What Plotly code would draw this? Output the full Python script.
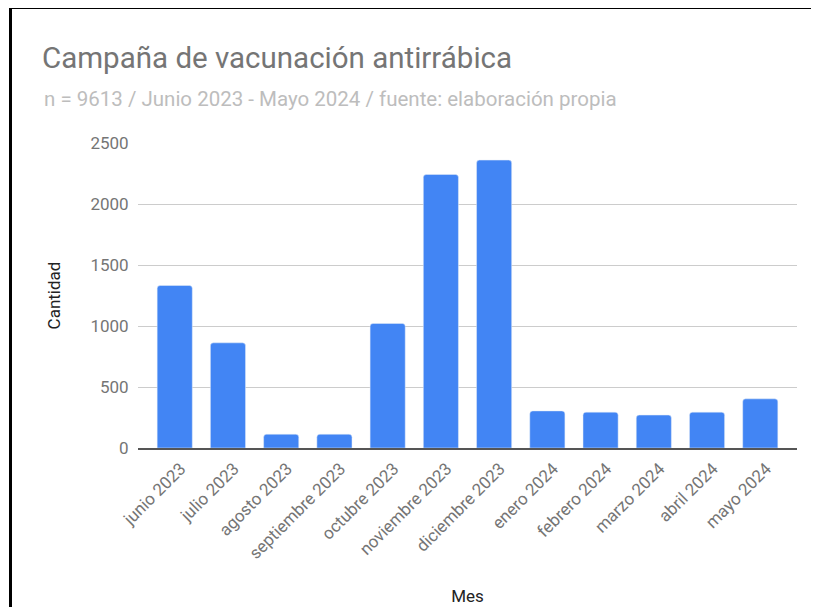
"""Campaña de vacunación antirrábica - bar chart."""

import plotly.graph_objects as go

meses = [
    "junio 2023", "julio 2023", "agosto 2023", "septiembre 2023",
    "octubre 2023", "noviembre 2023", "diciembre 2023", "enero 2024",
    "febrero 2024", "marzo 2024", "abril 2024", "mayo 2024",
]
cantidad = [1332, 862, 113, 113, 1021, 2242, 2360, 304, 294, 270, 294, 403]
y_ticks = [0, 500, 1000, 1500, 2000, 2500]

titulo = "Campaña de vacunación antirrábica"
subtitulo = "n = 9613 / Junio 2023 - Mayo 2024 / fuente: elaboración propia"

# the page body keeps its default 8px margin, so the figure is 8px smaller
W, H = 811, 599
L, R, T, B = 130, 22, 135, 159
plot_w = W - L - R
plot_h = H - T - B

fig = go.Figure(
    go.Bar(
        x=meses,
        y=cantidad,
        marker=dict(color="#4285f4", cornerradius=3),
        hoverinfo="x+y",
    )
)

# black frame on the left and top edges (px -> paper coords)
fx = (2.5 - L) / plot_w
fy = (H - B + 0.5) / plot_h
fig.add_shape(type="line", xref="paper", yref="paper",
              x0=fx, x1=fx, y0=-1, y1=fy, line=dict(color="black", width=3))
fig.add_shape(type="line", xref="paper", yref="paper",
              x0=fx, x1=2, y0=fy, y1=fy, line=dict(color="black", width=3))

fig.add_annotation(
    text=subtitulo, xref="paper", yref="paper",
    x=(34 - L) / plot_w, y=(H - B - 91) / plot_h,
    xanchor="left", yanchor="middle", showarrow=False,
    font=dict(size=20.5, color="#bdbdbd"),
)

fig.update_layout(
    width=W, height=H,
    margin=dict(l=L, r=R, t=T, b=B, autoexpand=False),
    paper_bgcolor="white",
    plot_bgcolor="white",
    font=dict(family="Roboto", size=17, color="#757575"),
    title=dict(
        text=titulo, xref="container", yref="container",
        x=34 / W, y=1 - 50 / H, xanchor="left", yanchor="middle",
        font=dict(size=29.5, color="#757575"),
    ),
    bargap=0.34,
    showlegend=False,
)

fig.update_xaxes(
    range=[-0.69, 11.69],
    tickangle=-45,
    showline=True, linecolor="#555555", linewidth=2,
    showgrid=False,
    ticks="outside", ticklen=2, tickcolor="rgba(0,0,0,0)",
    ticklabelshift=6,
    title=dict(text="Mes", standoff=28, font=dict(size=17, color="#222222")),
    automargin=False,
)
fig.update_yaxes(
    range=[0, 2500],
    tickvals=y_ticks,
    showgrid=True, gridcolor="#cccccc", gridwidth=1,
    zeroline=False,
    ticks="outside", ticklen=5, tickcolor="rgba(0,0,0,0)",
    title=dict(text="Cantidad", standoff=25, font=dict(size=17, color="#222222")),
    automargin=False,
)

fig.write_html("out.html")
